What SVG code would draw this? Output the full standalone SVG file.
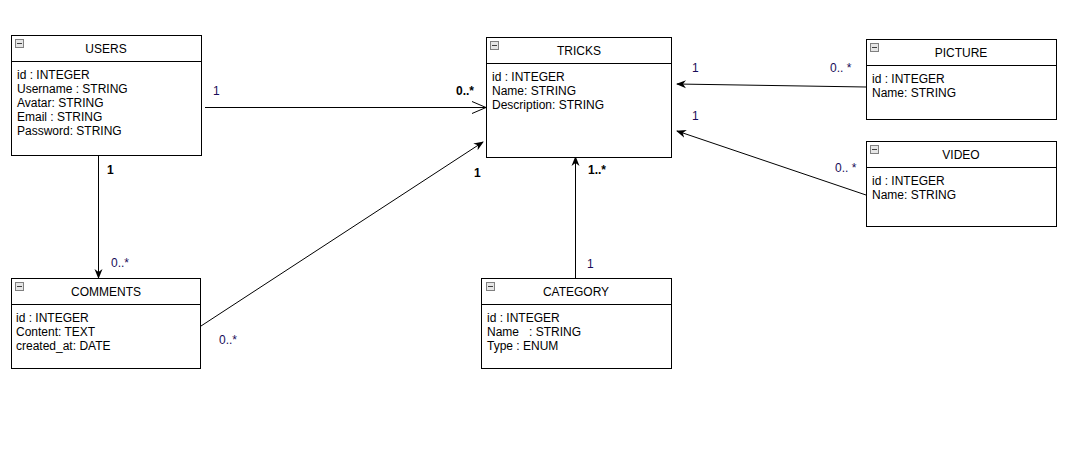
<svg xmlns="http://www.w3.org/2000/svg" width="1088" height="473" viewBox="0 0 1088 473">
  <style>
    .box { fill: #ffffff; stroke: #000000; stroke-width: 1; }
    .sep { stroke: #000000; stroke-width: 1; }
    .title { font-family: "Liberation Sans", Arial, sans-serif; font-size: 12px; fill: #000000; text-anchor: middle; }
    .attr { font-family: "Liberation Sans", Arial, sans-serif; font-size: 12px; fill: #000000; }
    .lbl { font-family: "Liberation Sans", Arial, sans-serif; font-size: 12px; fill: #180c58; }
    .lblb { font-family: "Liberation Sans", Arial, sans-serif; font-size: 12px; font-weight: bold; fill: #000000; }
    .edge { stroke: #000000; stroke-width: 1; fill: none; }
    .toggle { fill: #e6e6e6; stroke: #808080; stroke-width: 1; }
  </style>
  <defs>
    <marker id="filled" viewBox="0 0 10 10" refX="9" refY="5" markerWidth="10" markerHeight="10" markerUnits="userSpaceOnUse" orient="auto">
      <path d="M0,1 L10,5 L0,9 L3,5 Z" fill="#000000"/>
    </marker>
    <marker id="open" viewBox="0 0 16 16" refX="15" refY="8" markerWidth="16" markerHeight="16" markerUnits="userSpaceOnUse" orient="auto">
      <path d="M1,2 L15,8 L1,14" fill="none" stroke="#000000" stroke-width="1"/>
    </marker>
    <g id="minus">
      <rect x="0.5" y="0.5" width="8" height="8" class="toggle"/>
      <line x1="2" y1="4.5" x2="7" y2="4.5" stroke="#404040" stroke-width="1"/>
    </g>
  </defs>

  <rect width="1088" height="473" fill="#ffffff"/>

  <!-- associations -->
  <g id="connectors">
    <line class="edge" x1="205" y1="107.5" x2="486" y2="107.5" marker-end="url(#open)"/>
    <line class="edge" x1="98.5" y1="155" x2="98.5" y2="278" marker-end="url(#filled)"/>
    <line class="edge" x1="201" y1="326" x2="483" y2="142" marker-end="url(#filled)"/>
    <line class="edge" x1="575.5" y1="278" x2="575.5" y2="157" marker-end="url(#filled)"/>
    <line class="edge" x1="866" y1="87" x2="677" y2="84" marker-end="url(#filled)"/>
    <line class="edge" x1="866" y1="195" x2="677" y2="131" marker-end="url(#filled)"/>

    <text class="lbl" x="213" y="95">1</text>
    <text class="lblb" x="456" y="95">0..*</text>
    <text class="lblb" x="107" y="174">1</text>
    <text class="lbl" x="111" y="267">0..*</text>
    <text class="lblb" x="474" y="177">1</text>
    <text class="lbl" x="219" y="344">0..*</text>
    <text class="lblb" x="588" y="174">1..*</text>
    <text class="lbl" x="587" y="268">1</text>
    <text class="lbl" x="692" y="72">1</text>
    <text class="lbl" x="830" y="72">0.. *</text>
    <text class="lbl" x="692" y="120">1</text>
    <text class="lbl" x="835" y="172">0.. *</text>
  </g>

  <g id="users">
    <rect class="box" x="11.5" y="35.5" width="190" height="120"/>
    <line class="sep" x1="11.5" y1="61.5" x2="201.5" y2="61.5"/>
    <use href="#minus" x="15" y="39"/>
    <text class="title" x="106" y="53">USERS</text>
    <text class="attr" x="17" y="79">id : INTEGER</text>
    <text class="attr" x="17" y="93">Username : STRING</text>
    <text class="attr" x="17" y="107">Avatar: STRING</text>
    <text class="attr" x="17" y="121">Email : STRING</text>
    <text class="attr" x="17" y="135">Password: STRING</text>
  </g>

  <g id="tricks">
    <rect class="box" x="486.5" y="37.5" width="185" height="120"/>
    <line class="sep" x1="486.5" y1="63.5" x2="671.5" y2="63.5"/>
    <use href="#minus" x="490" y="41"/>
    <text class="title" x="579" y="55">TRICKS</text>
    <text class="attr" x="492" y="81">id : INTEGER</text>
    <text class="attr" x="492" y="95">Name: STRING</text>
    <text class="attr" x="492" y="109">Description: STRING</text>
  </g>

  <g id="picture">
    <rect class="box" x="866.5" y="39.5" width="190" height="80"/>
    <line class="sep" x1="866.5" y1="65.5" x2="1056.5" y2="65.5"/>
    <use href="#minus" x="870" y="43"/>
    <text class="title" x="961" y="57">PICTURE</text>
    <text class="attr" x="872" y="83">id : INTEGER</text>
    <text class="attr" x="872" y="97">Name: STRING</text>
  </g>

  <g id="video">
    <rect class="box" x="866.5" y="141.5" width="190" height="85"/>
    <line class="sep" x1="866.5" y1="167.5" x2="1056.5" y2="167.5"/>
    <use href="#minus" x="870" y="145"/>
    <text class="title" x="961" y="159">VIDEO</text>
    <text class="attr" x="872" y="185">id : INTEGER</text>
    <text class="attr" x="872" y="199">Name: STRING</text>
  </g>

  <g id="comments">
    <rect class="box" x="11.5" y="278.5" width="189" height="90"/>
    <line class="sep" x1="11.5" y1="304.5" x2="200.5" y2="304.5"/>
    <use href="#minus" x="15" y="282"/>
    <text class="title" x="106" y="296">COMMENTS</text>
    <text class="attr" x="16" y="322">id : INTEGER</text>
    <text class="attr" x="16" y="336">Content: TEXT</text>
    <text class="attr" x="16" y="350">created_at: DATE</text>
  </g>

  <g id="category">
    <rect class="box" x="481.5" y="278.5" width="190" height="90"/>
    <line class="sep" x1="481.5" y1="304.5" x2="671.5" y2="304.5"/>
    <use href="#minus" x="486" y="282"/>
    <text class="title" x="576" y="296">CATEGORY</text>
    <text class="attr" x="487" y="322">id : INTEGER</text>
    <text class="attr" x="487" y="336" xml:space="preserve">Name   : STRING</text>
    <text class="attr" x="487" y="350">Type : ENUM</text>
  </g>
</svg>
